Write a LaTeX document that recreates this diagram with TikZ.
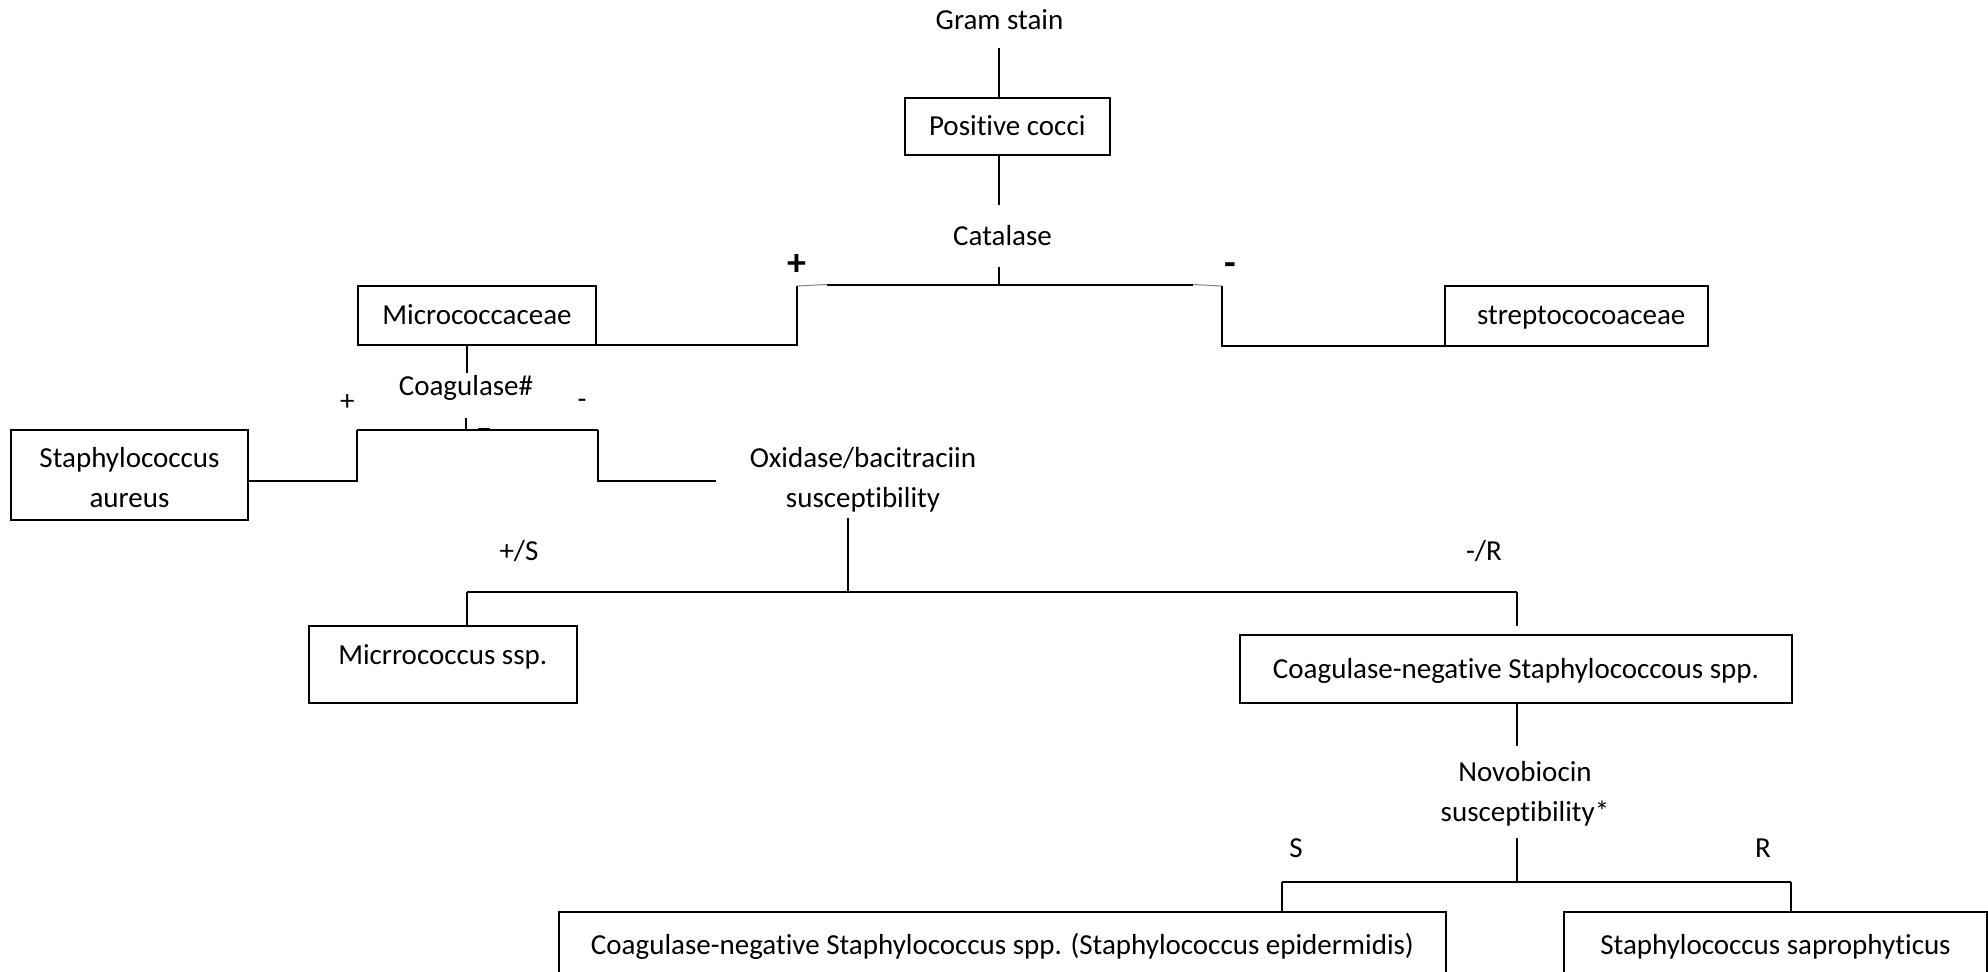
\documentclass[tikz,border=0pt]{standalone}
\usepackage{fontspec}
\setmainfont{Carlito}[Ligatures=NoCommon]
\begin{document}
\begin{tikzpicture}[x=0.5pt,y=-0.5pt,
  every node/.style={font=\fontsize{14.5pt}{20pt}\selectfont, inner sep=0pt, outer sep=0pt},
  txt/.style={anchor=base},
  bigsign/.style={anchor=base, font=\fontsize{19pt}{20pt}\selectfont\bfseries},
  box/.style={draw, line width=1pt, text height=9.34pt, text depth=0pt, align=center},
  ln/.style={line width=1pt},
  thinln/.style={line width=0.5pt, gray}]
\useasboundingbox (0,0) rectangle (1988,971);
\clip (0,0) rectangle (1988,971);

% boxes
\node[box, minimum width=102.25pt, minimum height=28.5pt] (pc) at (1007.25,126.5) {Positive cocci};
\node[box, minimum width=119pt, minimum height=29.5pt] (micro) at (477,315.5) {Micrococcaceae};
\node[box, minimum width=131.25pt, minimum height=30pt] (strep) at (1576.25,315.5) {\hspace*{5pt}streptococoaceae};
\node[box, minimum width=118.5pt, minimum height=44.75pt, text height=33pt, text depth=0pt] (sa) at (129.5,474.75) {Staphylococcus\\aureus};
\node[box, minimum width=133.75pt, minimum height=38.5pt, text depth=9pt] (mic2) at (442.75,664.5) {Micrrococcus ssp.};
\node[box, minimum width=276pt, minimum height=34pt] (cns) at (1516,669) {Coagulase-negative Staphylococcous spp.};
\node[box, minimum width=443.5pt, minimum height=44pt, text depth=11.3pt] (nbl) at (1002.5,956) {Coagulase-negative Staphylococcus spp. (Staphylococcus epidermidis)};
\node[box, minimum width=211.5pt, minimum height=44pt, text depth=11.3pt] (nbr) at (1775.5,956) {Staphylococcus saprophyticus};

% labels
\node[txt] (gram) at (999.5,29.5) {Gram stain};
\node[txt] (cat) at (1002.5,245.7) {Catalase};
\node[bigsign] (cp) at (796.5,275) {+};
\node[bigsign] (cn) at (1230,275) {-};
\node[txt] (coag) at (466,395.5) {Coagulase\#};
\node[txt] (kp) at (347.4,410) {+};
\node[txt] (kn) at (582,408.5) {-};
\node[txt, align=center] (ox) at (863,507.5) {Oxidase/bacitraciin\\susceptibility};
\node[txt] (ps) at (519,560) {+/S};
\node[txt] (mr) at (1484,560) {-/R};
\node[txt, align=center] (nov) at (1525,821.7) {Novobiocin\\susceptibility*};
\node[txt] (ss) at (1296,857) {S};
\node[txt] (rr) at (1763,857) {R};

% coordinates
\coordinate (a1) at (999,48);
\coordinate (a2) at (999,205);
\coordinate (a3) at (999,267);
\coordinate (cm) at (999,284.5);
\coordinate (cl) at (827,284.5);
\coordinate (cr) at (1193,284.5);
\coordinate (gl) at (797,286);
\coordinate (gr) at (1222,286);
\coordinate (b2) at (466.6,373);
\coordinate (b3) at (466,418);
\coordinate (bm) at (466,429.5);
\coordinate (kl) at (357,429.5);
\coordinate (kr) at (598,429.5);
\coordinate (d1) at (478,429.5);
\coordinate (d2) at (490,429.5);
\coordinate (kl2) at (357,480.7);
\coordinate (kr2) at (598,480.7);
\coordinate (kr3) at (716,480.7);
\coordinate (o1) at (848,518);
\coordinate (o2) at (848,592);
\coordinate (ol) at (466.6,592);
\coordinate (or) at (1517,592);
\coordinate (or2) at (1517,625.5);
\coordinate (n1) at (1516.5,745.5);
\coordinate (n2) at (1516.7,838);
\coordinate (nm) at (1516.7,882);
\coordinate (nl) at (1281.7,882);
\coordinate (nr) at (1791,882);

% connectors
\draw[ln] (a1) -- (a1 |- pc.north);
\draw[ln] (a1 |- pc.south) -- (a2);
\draw[ln] (a3) -- (cm);
\draw[ln] (cl) -- (cr);
\draw[thinln] (gl) -- (cl);
\draw[thinln] (cr) -- (gr);
\draw[ln] (gl) -- (gl |- micro.south) -- (micro.south east);
\draw[ln] (gr) -- (gr |- strep.south) -- (strep.south west);

\draw[ln] (b2 |- micro.south) -- (b2);
\draw[ln] (b3) -- (bm);
\draw[ln] (kl) -- (kr);
\draw[line width=1.6pt] (d1) -- (d2);
\draw[ln] (kl) -- (kl2) -- (kl2 -| sa.east);
\draw[ln] (kr) -- (kr2) -- (kr3);

\draw[ln] (o1) -- (o2);
\draw[ln] (ol) -- (or);
\draw[ln] (ol) -- (ol |- mic2.north);
\draw[ln] (or) -- (or2);

\draw[ln] (n1 |- cns.south) -- (n1);
\draw[ln] (n2) -- (nm);
\draw[ln] (nl) -- (nr);
\draw[ln] (nl) -- (nl |- nbl.north);
\draw[ln] (nr) -- (nr |- nbr.north);
\end{tikzpicture}
\end{document}
